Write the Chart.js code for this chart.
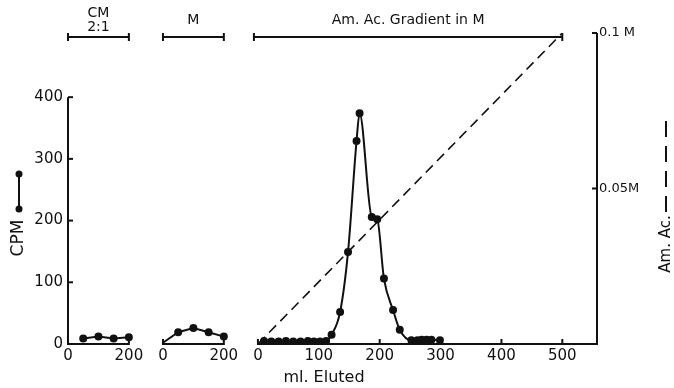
<!DOCTYPE html>
<html>
<head>
<meta charset="utf-8">
<script src="https://cdn.jsdelivr.net/npm/chart.js@4.4.0/dist/chart.umd.min.js"></script>
<style>
  html, body { margin: 0; padding: 0; background: #fff; }
  #wrap { width: 674px; height: 388px; }
</style>
</head>
<body>
<div id="wrap"><canvas id="chart" width="674" height="388"></canvas></div>
<script>
// CM 2:1 wash
const cmMl = [50, 100, 150, 200];
const cmCpm = [9, 12, 9, 11];
// M wash
const mMl = [0, 50, 100, 150, 200];
const mCpm = [2, 19, 26, 19, 12];
// ammonium acetate gradient fractions
const gradMl = [10, 22, 34, 46, 58, 70, 82, 92, 102, 112, 121, 135, 148, 162, 167, 187, 196, 207, 222, 233, 252, 262, 269, 277, 285, 299];
const gradCpm = [5, 4, 4, 5, 4, 4, 5, 4, 4, 5, 15, 52, 149, 329, 374, 206, 202, 106, 55, 23, 6, 6, 7, 7, 7, 6];
// gradient concentration (M)
const amMl = [0, 500];
const amMolar = [0, 0.1];

const panelNames = [['CM', '2:1'], ['M'], ['Am. Ac. Gradient in M']];
const panelEnds = [200, 200, 500];
const panelTicks = [[0, 200], [0, 200], [0, 100, 200, 300, 400, 500]];
const cpmTicks = [0, 100, 200, 300, 400];
const amTicks = [0.05, 0.1];
const amTickLabels = ['0.05M', '0.1 M'];

// the three panels share one x scale; first two are drawn at half scale
const panelOffset = [-312, -156, 0];
const panelFactor = [0.5, 0.5, 1];
const toX = (p, ml) => panelOffset[p] + ml * panelFactor[p];

const xTickVals = [];
const xTickLabels = [];
panelTicks.forEach((list, p) => list.forEach(v => {
  xTickVals.push(toX(p, v));
  xTickLabels.push(String(v));
}));

const pts = (p, xs, ys) => xs.map((v, i) => ({ x: toX(p, v), y: ys[i] }));

const INK = '#111';
const FONT = 'DejaVu Sans';

const decor = {
  id: 'decor',
  afterDraw(chart) {
    const { ctx, chartArea, scales } = chart;
    const x = scales.x, y = scales.y, y2 = scales.y2;
    ctx.save();
    ctx.strokeStyle = INK;
    ctx.fillStyle = INK;
    ctx.lineWidth = 2;
    ctx.lineCap = 'butt';

    const line = (x1, y1, x2, y2_) => {
      ctx.beginPath(); ctx.moveTo(x1, y1); ctx.lineTo(x2, y2_); ctx.stroke();
    };

    // left CPM axis
    const left = chartArea.left;
    const y0 = y.getPixelForValue(0);
    line(left, y0, left, y.getPixelForValue(400));
    cpmTicks.forEach(v => {
      const py = y.getPixelForValue(v);
      line(left, py, left + 5, py);
    });

    // bottom axis segments
    panelEnds.forEach((end, p) => {
      const xa = x.getPixelForValue(toX(p, 0));
      const xb = p === 2 ? chartArea.right : x.getPixelForValue(toX(p, end));
      line(xa, y0, xb, y0);
      panelTicks[p].forEach(v => {
        const px = x.getPixelForValue(toX(p, v));
        line(px, y0 + 1, px, y0 - 5);
      });
    });

    // right molarity axis
    const right = chartArea.right;
    line(right, y2.getPixelForValue(0) + 1, right, y2.getPixelForValue(0.1));
    amTicks.forEach(v => {
      const py = y2.getPixelForValue(v);
      line(right, py, right - 5, py);
    });

    // bars across the top naming each eluent
    const barY = 37;
    ctx.font = '14px "' + FONT + '"';
    ctx.textAlign = 'center';
    ctx.textBaseline = 'middle';
    panelEnds.forEach((end, p) => {
      const xa = x.getPixelForValue(toX(p, 0)) - (p === 2 ? 4 : 0);
      const xb = x.getPixelForValue(toX(p, end));
      line(xa, barY, xb, barY);
      line(xa, barY - 4, xa, barY + 4);
      line(xb, barY - 4, xb, barY + 4);
      const cx = (xa + xb) / 2;
      const names = panelNames[p];
      if (names.length === 2) {
        ctx.fillText(names[0], cx, 13);
        ctx.fillText(names[1], cx, 27);
      } else {
        ctx.fillText(names[0], cx, 20);
      }
    });

    // x title
    ctx.font = '16px "' + FONT + '"';
    ctx.fillText('ml. Eluted', 324, 378);

    // left title with solid-line key
    ctx.save();
    ctx.translate(19, 238);
    ctx.rotate(-Math.PI / 2);
    ctx.font = '17px "' + FONT + '"';
    ctx.fillText('CPM', 0, 0);
    ctx.restore();
    line(19, 174, 19, 209);
    [174, 209].forEach(py => {
      ctx.beginPath(); ctx.arc(19, py, 3.5, 0, Math.PI * 2); ctx.fill();
    });

    // right title with dashed key
    ctx.save();
    ctx.translate(666, 244);
    ctx.rotate(-Math.PI / 2);
    ctx.font = '15px "' + FONT + '"';
    ctx.fillText('Am. Ac.', 0, 0);
    ctx.lineWidth = 2;
    ctx.setLineDash([16, 9]);
    line(32, 0, 130, 0);
    ctx.restore();

    ctx.restore();
  }
};

new Chart(document.getElementById('chart'), {
  type: 'line',
  data: {
    datasets: [
      {
        data: pts(0, cmMl, cmCpm),
        yAxisID: 'y',
        borderColor: INK, backgroundColor: INK,
        borderWidth: 2, pointRadius: 3, tension: 0,
      },
      {
        data: pts(1, mMl, mCpm),
        yAxisID: 'y',
        borderColor: INK, backgroundColor: INK,
        borderWidth: 2, tension: 0,
        pointRadius: ctx => (ctx.dataIndex === 0 ? 0 : 3),
      },
      {
        data: pts(2, gradMl, gradCpm),
        yAxisID: 'y',
        borderColor: INK, backgroundColor: INK,
        borderWidth: 2, pointRadius: 3,
        cubicInterpolationMode: 'monotone',
      },
      {
        data: pts(2, amMl, amMolar),
        yAxisID: 'y2',
        borderColor: INK,
        borderWidth: 1.6, pointRadius: 0,
        borderDash: [10, 6],
      },
    ],
  },
  options: {
    responsive: false,
    animation: false,
    devicePixelRatio: 1,
    layout: { padding: { top: 33, left: 0, right: 0, bottom: 0 } },
    plugins: { legend: { display: false }, tooltip: { enabled: false } },
    scales: {
      x: {
        type: 'linear',
        min: -312, max: 557,
        afterBuildTicks: s => { s.ticks = xTickVals.map(v => ({ value: v })); },
        afterFit: s => { s.height = 44; },
        ticks: {
          autoSkip: false, maxRotation: 0, padding: -5,
          color: INK, font: { family: FONT, size: 15 },
          callback: (v, i) => xTickLabels[i],
        },
        grid: { display: false },
        border: { display: false },
      },
      y: {
        position: 'left',
        min: 0, max: 504,
        afterBuildTicks: s => { s.ticks = cpmTicks.map(v => ({ value: v })); },
        afterFit: s => { s.width = 68; },
        ticks: {
          padding: -3, color: INK, font: { family: FONT, size: 15 },
        },
        grid: { display: false },
        border: { display: false },
      },
      y2: {
        position: 'right',
        min: 0, max: 0.1,
        afterBuildTicks: s => { s.ticks = amTicks.map(v => ({ value: v })); },
        afterFit: s => { s.width = 77; },
        ticks: {
          padding: -6, color: INK, font: { family: FONT, size: 13 },
          callback: (v, i) => amTickLabels[i],
        },
        grid: { display: false },
        border: { display: false },
      },
    },
  },
  plugins: [decor],
});
</script>
</body>
</html>
